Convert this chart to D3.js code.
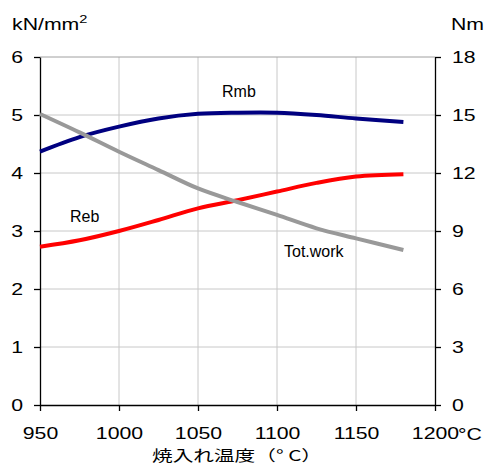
<!DOCTYPE html>
<html>
<head>
<meta charset="utf-8">
<script src="https://cdn.jsdelivr.net/npm/d3@7"></script>
<style>
  body { margin: 0; background: #fff; }
  text { font-family: "Liberation Sans", Arial, sans-serif; fill: #000; }
</style>
</head>
<body>
<div id="chart"></div>
<script>
var temps   = [950, 975, 1000, 1025, 1050, 1075, 1100, 1125, 1150, 1180];
var rmb     = [4.37, 4.62, 4.80, 4.94, 5.02, 5.04, 5.04, 5.00, 4.94, 4.88];
var reb     = [2.73, 2.84, 3.00, 3.19, 3.39, 3.53, 3.68, 3.83, 3.94, 3.98];
var totWork = [15.05, 14.1, 13.1, 12.15, 11.2, 10.5, 9.83, 9.14, 8.62, 8.02];
var xTicks  = [950, 1000, 1050, 1100, 1150, 1200];
var yTicks  = [0, 1, 2, 3, 4, 5, 6];
var y2Ticks = [0, 3, 6, 9, 12, 15, 18];

var width = 488, height = 464,
    margin = {top: 57, right: 53, bottom: 59, left: 40},
    w = width - margin.left - margin.right,
    h = height - margin.top - margin.bottom,
    sx = 1.33;

var svg = d3.select("#chart")
  .append("svg")
    .attr("width", width)
    .attr("height", height);

var g = svg.append("g")
    .attr("transform", "translate(" + margin.left + "," + margin.top + ")");

var x = d3.scaleLinear().domain([950, 1200]).range([0, w]);
var y = d3.scaleLinear().domain([0, 6]).range([h, 0]);
var y2 = d3.scaleLinear().domain([0, 18]).range([h, 0]);

// grid
g.selectAll(".vgrid")
  .data(xTicks.slice(1, -1)).enter()
  .append("line")
    .attr("x1", function(d) { return x(d); })
    .attr("x2", function(d) { return x(d); })
    .attr("y1", 0)
    .attr("y2", h)
    .style("stroke", "#c8c8c8")
    .style("stroke-width", 1);

g.selectAll(".hgrid")
  .data(yTicks.slice(1)).enter()
  .append("line")
    .attr("x1", 0)
    .attr("x2", w)
    .attr("y1", function(d) { return y(d); })
    .attr("y2", function(d) { return y(d); })
    .style("stroke", function(d) { return d == 6 ? "#a0a0a0" : "#c8c8c8"; })
    .style("stroke-width", 1);

// axes
function styleAxis(sel) {
  sel.selectAll("path, line").style("stroke", "#000").style("stroke-width", 1.3);
  sel.selectAll("text")
    .style("font-size", "16px")
    .style("font-family", "'Liberation Sans', Arial, sans-serif")
    .attr("fill", "#000");
}

var gx = g.append("g")
    .attr("transform", "translate(0," + h + ")")
    .call(d3.axisBottom(x).tickValues(xTicks).tickSize(6).tickSizeOuter(0).tickFormat(d3.format("d")));
styleAxis(gx);
gx.selectAll("text")
    .attr("y", 23)
    .attr("transform", "scale(" + sx + ",1)");

var gy = g.append("g")
    .call(d3.axisLeft(y).tickValues(yTicks).tickSize(6).tickSizeOuter(0).tickFormat(d3.format("d")));
styleAxis(gy);
gy.selectAll("text")
    .attr("x", -17 / sx)
    .attr("transform", "scale(" + sx + ",1)");

var gy2 = g.append("g")
    .attr("transform", "translate(" + w + ",0)")
    .call(d3.axisRight(y2).tickValues(y2Ticks).tickSize(6).tickSizeOuter(0).tickFormat(d3.format("d")));
styleAxis(gy2);
gy2.selectAll("text")
    .attr("x", 17 / sx)
    .attr("transform", "scale(" + sx + ",1)");

// curves
var series = [
  {values: rmb, scale: y, color: "#000080"},
  {values: reb, scale: y, color: "#ff0000"},
  {values: totWork, scale: y2, color: "#999999"}
];

series.forEach(function(s) {
  var line = d3.line()
    .x(function(d, i) { return x(temps[i]); })
    .y(function(d) { return s.scale(d); })
    .curve(d3.curveCatmullRom.alpha(0.5));
  g.append("path")
    .datum(s.values)
    .attr("d", line)
    .style("fill", "none")
    .style("stroke", s.color)
    .style("stroke-width", 4);
});

// series labels
var labels = [
  {text: "Rmb", x: 222, y: 97},
  {text: "Reb", x: 70, y: 222},
  {text: "Tot.work", x: 284, y: 257}
];
svg.selectAll(".lbl")
  .data(labels).enter()
  .append("text")
    .attr("x", function(d) { return d.x; })
    .attr("y", function(d) { return d.y; })
    .style("font-size", "16px")
    .text(function(d) { return d.text; });

// units
var unitL = svg.append("text")
    .attr("transform", "translate(12,30) scale(" + sx + ",1)")
    .style("font-size", "16px");
unitL.append("tspan").text("kN/mm");
unitL.append("tspan")
    .attr("dy", "-7")
    .style("font-size", "11px")
    .text("2");

svg.append("text")
    .attr("transform", "translate(451,30) scale(" + sx + ",1)")
    .style("font-size", "16px")
    .text("Nm");

svg.append("text")
    .attr("transform", "translate(458,440) scale(" + sx + ",1)")
    .style("font-size", "16px")
    .text("°C");

svg.append("text")
    .attr("x", 152)
    .attr("y", 461)
    .attr("textLength", 170)
    .attr("lengthAdjust", "spacingAndGlyphs")
    .style("font-family", "'Noto Sans CJK JP', sans-serif")
    .style("font-size", "15px")
    .text("焼入れ温度（° C）");
</script>
</body>
</html>
